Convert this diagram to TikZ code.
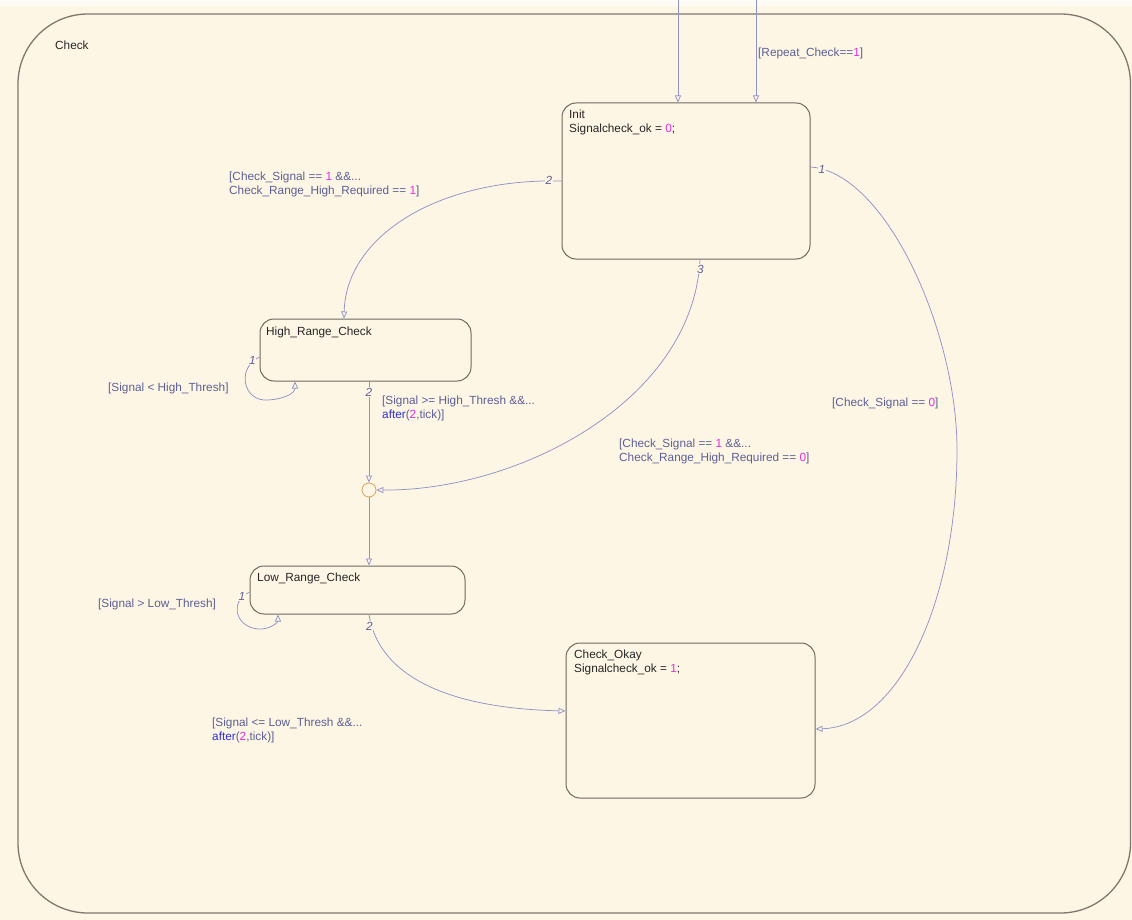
\documentclass[tikz,border=0pt]{standalone}
\usepackage{fontspec}
\setmainfont{Liberation Sans}
\usetikzlibrary{arrows.meta,calc}
\definecolor{bg}{HTML}{FEF6E5}
\definecolor{stateborder}{HTML}{6E685E}
\definecolor{outerborder}{HTML}{7D786E}
\definecolor{transcol}{HTML}{9093C6}
\definecolor{lblcol}{HTML}{5C5F96}
\definecolor{numcol}{HTML}{E22DE0}
\definecolor{aftercol}{HTML}{2E2EDB}
\definecolor{juncol}{HTML}{D6A25C}
\definecolor{txtcol}{HTML}{262626}
\newcommand\mylblfont{\fontsize{11.8}{14.5}\selectfont}
\newcommand\mnum[1]{\textcolor{numcol}{#1}}
\newcommand\maft{\textcolor{aftercol}{after}}
\tikzset{
  statebox/.style={draw=stateborder, line width=1pt, rounded corners=14pt, fill=bg, inner sep=0pt},
  trans/.style={draw=transcol, line width=0.75pt, -{Triangle[open,length=7pt,width=6pt]}},
  lbl/.style={text=lblcol, font=\mylblfont, anchor=north west, align=left, inner sep=0pt},
  stxt/.style={text=txtcol, font=\mylblfont, anchor=north west, align=left, inner sep=0pt},
  tnum/.style={text=lblcol, font=\mylblfont\itshape, fill=bg, inner sep=0.6pt},
}
\begin{document}
\begin{tikzpicture}[x=1pt,y=-1pt]
\useasboundingbox (0,0) rectangle (1132,920);
\fill[bg] (0,0) rectangle (1132,920);
\fill[white!60!bg] (0,0) rectangle (1132,6);
% outer chart
\draw[outerborder, line width=1.3pt, rounded corners=70pt] (18,14) rectangle (1130.5,913);
\node[stxt] (checklbl) at (55,40.6) {Check};
% states
\node[statebox, minimum width=248pt, minimum height=156pt] (init) at (686,181) {};
\node[statebox, minimum width=211pt, minimum height=62pt] (hrc) at (365.5,350) {};
\node[statebox, minimum width=215pt, minimum height=48pt] (lrc) at (357.5,590) {};
\node[statebox, minimum width=249pt, minimum height=155pt] (co) at (690.5,720.5) {};
\node[draw=juncol, circle, minimum size=14pt, inner sep=0pt, line width=0.8pt, fill=bg] (j) at (369,490) {};
% state texts
\node[stxt] (inittxt) at (569,109.6) {Init\\Signalcheck\_ok = \mnum{0};};
\node[stxt] (hrctxt) at (266,326.6) {High\_Range\_Check};
\node[stxt] (lrctxt) at (257,572.6) {Low\_Range\_Check};
\node[stxt] (cotxt) at (574,649.6) {Check\_Okay\\Signalcheck\_ok = \mnum{1};};
% default transitions from top
\coordinate (t1) at (678,0);
\coordinate (t2) at (756,0);
\draw[trans] (t1) -- (t1 |- init.north);
\draw[trans] (t2) -- (t2 |- init.north);
\node[lbl] (repeatlbl) at (758,47.6) {[Repeat\_Check==\mnum{1}]};
% Init -> High_Range_Check
\draw[trans] (init.west) .. controls (440,178) and (346,235) .. ($(hrc.north)+(-21.5,0)$);
\node[tnum] (n1) at (549,180.5) {2};
\node[lbl] (l1) at (229,171.6) {[Check\_Signal == \mnum{1} \&\&...\\Check\_Range\_High\_Required == \mnum{1}]};
% Init -> junction
\draw[trans] ($(init.south)+(14,0)$) .. controls (693,400) and (520,491) .. (j.east);
\node[tnum] (n2) at (700.5,269) {3};
\node[lbl] (l2) at (619,438.6) {[Check\_Signal == \mnum{1} \&\&...\\Check\_Range\_High\_Required == \mnum{0}]};
% Init -> Check_Okay
\coordinate (rmid) at (957,450);
\draw[trans] ($(init.east)+(0,-14)$) .. controls (885,172) and (957,330) .. (rmid) .. controls (957,600) and (900,726) .. ($(co.east)+(0,8.5)$);
\node[tnum] (n3) at (822,169.5) {1};
\node[lbl] (l3) at (832,397.6) {[Check\_Signal == \mnum{0}]};
% High_Range_Check -> junction
\draw[trans] (j |- hrc.south) -- (j.north);
\node[tnum] (n4) at (369,392) {2};
\node[lbl] (l4) at (382,395.6) {[Signal >= High\_Thresh \&\&...\\\maft(\mnum{2},tick)]};
% junction -> Low_Range_Check
\draw[trans] (j.south) -- (j |- lrc.north);
% High self loop
\draw[trans] ($(hrc.west)+(0,7)$) .. controls (236,368) and (243,402) .. (268,400) .. controls (285,399) and (295,393) .. ($(hrc.south)+(-70.5,0)$);
\node[tnum] (n5) at (252.5,360) {1};
\node[lbl] (l5) at (108,382.6) {[Signal < High\_Thresh]};
% Low self loop
\draw[trans] ($(lrc.west)+(0,2)$) .. controls (228,602) and (236,630) .. (262,629) .. controls (272,628) and (278,622) .. ($(lrc.south)+(-79.5,0)$);
\node[tnum] (n6) at (242,596) {1};
\node[lbl] (l6) at (98,598.6) {[Signal > Low\_Thresh]};
% Low_Range_Check -> Check_Okay
\draw[trans] (j |- lrc.south) .. controls (378,672) and (440,708) .. ($(co.west)+(0,-9.5)$);
\node[tnum] (n7) at (369.5,626) {2};
\node[lbl] (l7) at (212,717.6) {[Signal <= Low\_Thresh \&\&...\\\maft(\mnum{2},tick)]};
\end{tikzpicture}
\end{document}
